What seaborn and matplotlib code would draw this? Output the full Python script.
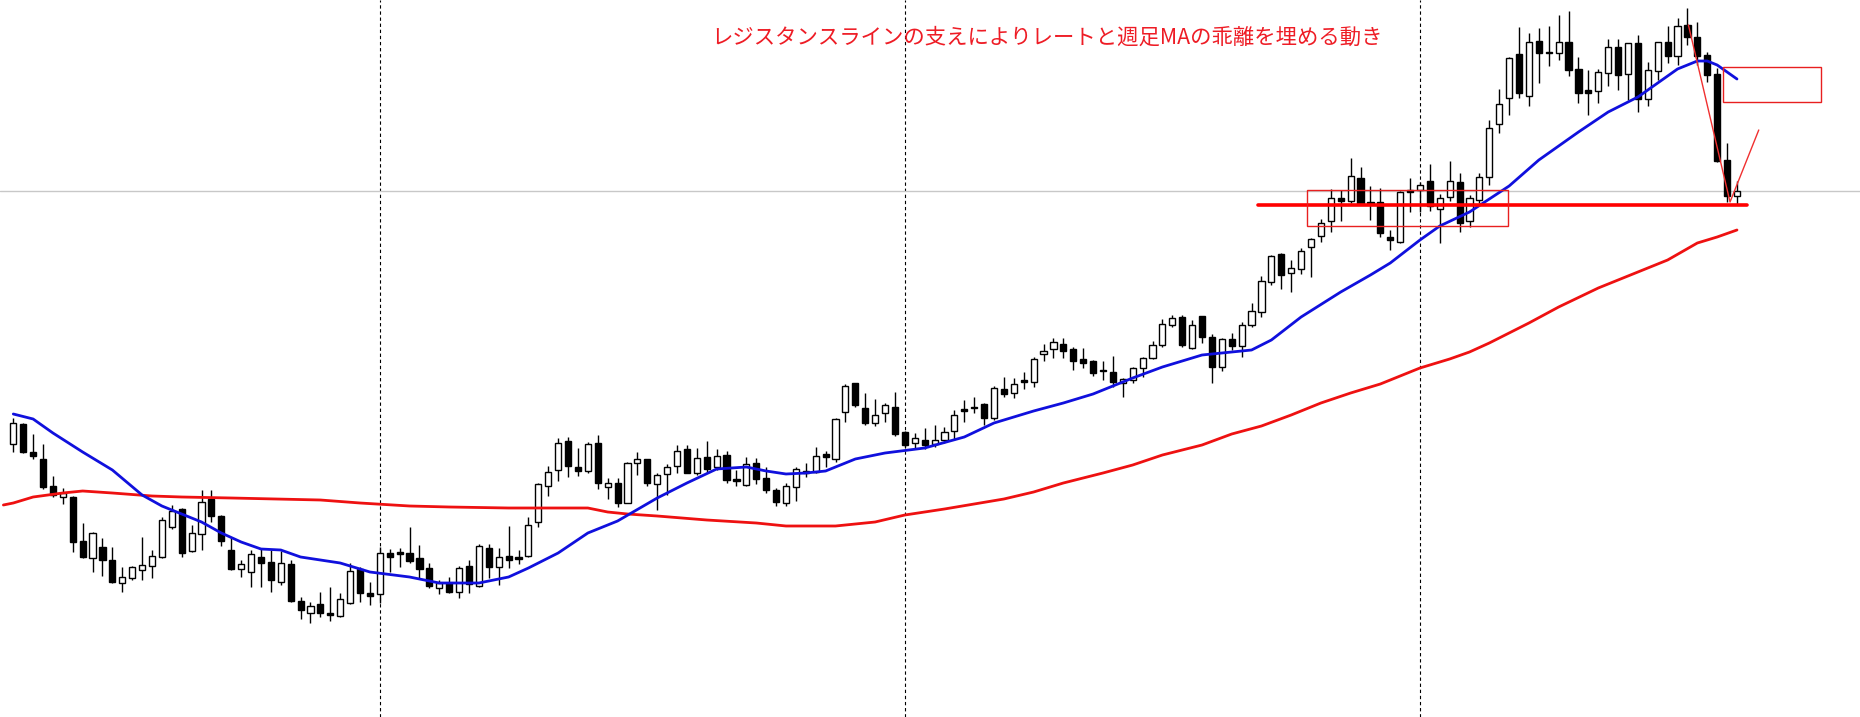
import numpy as np
import pandas as pd
import matplotlib
matplotlib.use("Agg")
import matplotlib.pyplot as plt
import seaborn as sns

# weekly candles (price units)
opens = [273,293,265,258,231,220,220,176,159,170,157,134,139,147,151,160,190,208,166,183,
         218,201,167,148,145,160,155,135,153,116,104,113,104,101,114,148,124,123,164,165,
         164,159,149,129,134,125,151,131,169,150,161,160,161,195,231,247,276,250,246,274,
         230,234,214,254,258,233,243,251,268,244,260,250,262,238,232,254,239,227,214,230,
         246,245,263,258,305,334,309,294,304,310,285,274,277,273,277,286,308,310,313,299,
         328,324,337,335,363,368,373,368,358,356,347,345,334,337,349,359,372,392,400,369,
         401,380,350,378,371,392,405,435,463,444,448,470,481,496,519,516,539,515,515,480,
         475,527,527,536,508,520,535,496,517,540,593,619,663,621,676,665,664,675,648,627,
         626,644,670,643,674,618,646,675,661,692,680,662,643,557,521]
highs = [299,294,283,273,241,229,221,194,185,179,170,150,151,180,167,200,212,209,192,227,
         227,202,180,157,167,168,167,166,157,120,115,125,130,124,154,150,135,170,168,169,
         190,172,154,137,140,151,157,173,173,169,191,167,200,234,251,279,280,269,275,282,
         239,239,255,265,258,244,253,272,272,269,276,268,266,247,260,259,250,229,234,250,
         254,270,266,299,333,334,324,318,314,325,286,284,289,292,290,307,317,320,314,331,
         340,339,345,360,373,379,379,370,369,357,356,361,339,350,360,376,398,402,402,397,
         401,383,379,384,395,414,441,462,464,457,469,479,498,528,527,559,550,531,529,487,
         526,539,535,553,523,556,544,522,544,597,628,660,690,684,689,691,702,706,660,647,
         648,678,678,674,682,655,675,691,699,709,695,665,649,574,536]
lows = [265,264,258,228,220,213,165,159,145,141,134,125,137,137,139,159,188,160,165,167,
        195,171,147,140,130,130,125,132,115,98,94,100,96,100,113,115,112,114,145,150,
        154,139,129,123,124,119,124,130,139,132,149,153,160,190,221,236,240,241,244,228,
        218,210,214,242,231,207,222,244,244,242,245,247,234,231,231,233,224,211,211,216,
        240,244,250,255,295,310,292,291,295,281,270,268,268,270,274,277,295,304,292,297,
        320,319,328,330,356,359,359,347,349,341,337,330,320,334,340,358,370,390,370,368,
        374,334,346,367,360,390,400,432,428,425,443,440,475,485,496,514,512,497,480,467,
        474,505,505,506,474,516,485,490,514,532,584,602,619,611,634,651,657,641,614,602,
        614,631,627,617,605,611,637,654,652,672,652,635,555,515,513]
closes = [294,265,261,230,222,224,175,160,184,157,135,140,150,152,161,197,206,164,184,215,
          201,176,148,153,163,154,137,154,116,107,111,104,102,118,146,124,121,164,160,163,
          156,148,131,134,125,149,133,171,150,160,157,158,192,233,245,274,251,246,273,234,
          234,214,254,258,234,242,250,266,244,259,248,261,237,236,253,238,227,215,231,248,
          244,261,260,298,331,312,294,302,312,283,272,279,272,277,285,302,306,309,299,329,
          323,333,335,358,366,375,366,356,354,344,346,335,338,349,359,372,393,399,372,392,
          380,350,378,371,392,406,436,461,442,449,466,478,494,519,516,541,513,514,484,477,
          525,525,532,511,519,536,494,519,540,589,613,659,624,675,664,664,675,647,624,624,
          645,670,642,674,618,647,675,661,691,680,661,642,556,521,526]

# short (blue) and long (red) moving averages, read at some weeks
ma_short_week = [0,2,4,7,10,13,15,17,19,21,23,25,27,29,31,33,36,40,43,47,50,52,55,58,61,65,
                 68,71,74,76,78,80,82,85,88,92,96,99,103,106,109,113,116,120,123,125,127,130,
                 134,137,139,142,144,147,151,154,158,161,164,168,170,171,172,173,174]
ma_short = [303,298,284,265,247,222,211,203,195,184,175,168,167,160,157,154,145,140,134,134,
            140,149,164,184,196,219,234,248,250,246,243,244,246,258,264,269,280,294,306,314,
            323,339,350,362,365,367,377,400,425,442,454,477,491,505,531,557,585,605,620,648,
            656,656,652,645,638]
ma_long_week = [-1,0,2,5,7,10,14,17,22,31,35,40,44,50,58,60,62,65,70,75,78,83,87,90,94,
                100,103,106,110,113,116,120,123,126,129,132,135,138,142,145,147,149,151,153,
                156,160,163,167,170,172,174]
ma_long = [212,214,220,224,226,224,221,220,219,217,214,211,210,209,209,205,203,201,197,194,
           191,191,195,202,208,218,225,234,244,252,262,272,283,291,302,314,324,333,349,358,
           365,374,384,394,410,429,441,457,474,480,487]

separators = [37, 90, 142]
current_price = 526
resistance = 512
resistance_weeks = [125.6, 175.0]
range_box = [130.6, 150.9, 491, 527]
target_box = [172.6, 182.5, 615, 650]
move_weeks = [169.1, 173.3, 176.2]
move_prices = [692, 515, 587]
title = "レジスタンスラインの支えによりレートと週足MAの乖離を埋める動き"

sns.set_theme(style="white")
plt.rcParams['font.family'] = ['Noto Sans CJK JP', 'DejaVu Sans']

df = pd.DataFrame({'o': opens, 'h': highs, 'l': lows, 'c': closes})
df['t'] = np.arange(len(df))
up = df[df.c >= df.o]
dn = df[df.c < df.o]

fig = plt.figure(figsize=(18.6, 7.17), dpi=100)
ax = fig.add_axes([0, 0, 1, 1])
ax.set_xlim(-1.343, 186.42)
ax.set_ylim(0, 717)
ax.axis('off')

for s in separators:
    ax.axvline(s, color='black', lw=0.8, ls=(0, (3, 2.5)), zorder=1)
ax.axhline(current_price, color='#c8c8c8', lw=1, zorder=1)

# candles
ax.vlines(df.t, df.l, df.h, color='black', lw=1, zorder=2)
ax.bar(up.t, up.c - up.o, bottom=up.o, width=0.62, color='white', edgecolor='black', lw=1, zorder=3)
ax.bar(dn.t, dn.o - dn.c, bottom=dn.c, width=0.62, color='black', edgecolor='black', lw=1, zorder=3)

# moving averages
sns.lineplot(x=ma_long_week, y=ma_long, color='#ee1111', lw=2, ax=ax, zorder=4)
sns.lineplot(x=ma_short_week, y=ma_short, color='#1010dd', lw=2, ax=ax, zorder=4)

# annotations
ax.plot(resistance_weeks, [resistance, resistance], color='#ff0000', lw=2.6, zorder=5)
ax.add_patch(plt.Rectangle((range_box[0], range_box[2]), range_box[1] - range_box[0],
                           range_box[3] - range_box[2], fill=False, edgecolor='#e82020', lw=1, zorder=5))
ax.add_patch(plt.Rectangle((target_box[0], target_box[2]), target_box[1] - target_box[0],
                           target_box[3] - target_box[2], fill=False, edgecolor='#e82020', lw=1, zorder=5))
ax.plot(move_weeks, move_prices, color='#f03030', lw=1, zorder=5)

fig.text(0.563, 0.948, title, color='#ee1c25', fontsize=15.4, ha='center', va='center')

fig.savefig('out.png', dpi=100)
